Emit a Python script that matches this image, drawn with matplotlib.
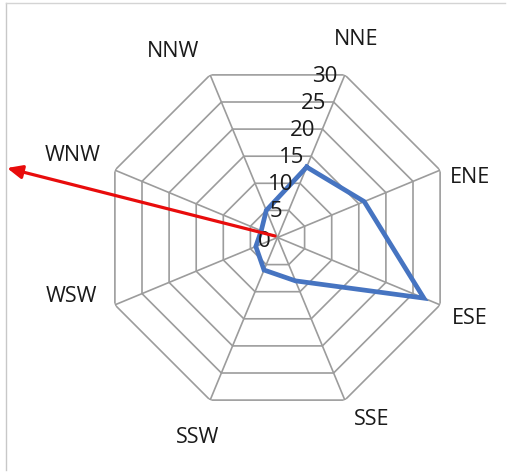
import numpy as np
import matplotlib
matplotlib.use("Agg")
import matplotlib.pyplot as plt
from matplotlib.lines import Line2D

# Wind direction sectors and their frequencies
directions = ["NNE", "ENE", "ESE", "SSE", "SSW", "WSW", "WNW", "NNW"]
frequency = [13, 16, 27, 8, 6, 4, 3, 5]
ring_values = [0, 5, 10, 15, 20, 25, 30]
ring_labels = ["0", "5", "10", "15", "20", "25", "30"]

plt.rcParams["font.family"] = ["Open Sans", "DejaVu Sans"]

W, H = 508, 475
fig = plt.figure(figsize=(W / 100, H / 100), dpi=100)
fig.patch.set_facecolor("white")

# Chart centre and outer radius in pixels
cx, cy, R = 277.5, 237.5, 176.0
ax = fig.add_axes([(cx - R) / W, (H - cy - R) / H, 2 * R / W, 2 * R / H],
                  projection="polar")
ax.set_theta_zero_location("N")
ax.set_theta_direction(-1)
rmax = ring_values[-1]
ax.set_ylim(0, rmax)
ax.set_axis_off()

n = len(directions)
theta = np.deg2rad(22.5 + 45.0 * np.arange(n))
theta_closed = np.append(theta, theta[0])

grid_kw = dict(color="#9c9c9c", lw=1.2, zorder=1, solid_capstyle="butt")
# Octagonal rings
for r in ring_values[1:]:
    ax.plot(theta_closed, [r] * (n + 1), **grid_kw)
# Spokes
for t in theta:
    ax.plot([t, t], [0, rmax], **grid_kw)

# Frequency polygon
vals = np.append(frequency, frequency[0])
ax.plot(theta_closed, vals, color="#4674c1", lw=3.4, zorder=3,
        solid_joinstyle="miter")

# Value labels along the NNE spoke
for v, lab in zip(ring_values, ring_labels):
    ax.annotate(lab, xy=(theta[0], v), xytext=(-5, -1 if v else -3),
                textcoords="offset points", ha="right", va="center",
                fontsize=16, color="#1a1a1a", zorder=4)

# Direction labels just outside the outer ring
label_angle = [21.8, 72.8, 112.7, 152.7, 201.7, 253.9, 291.9, 330.6]
label_radius = [36.3, 34.3, 35.6, 35.0, 36.6, 36.5, 37.7, 36.3]
for name, a, r in zip(directions, label_angle, label_radius):
    ax.text(np.deg2rad(a), r, name, ha="center", va="center",
            fontsize=15.5, color="#1a1a1a", clip_on=False)

# Red arrow from the centre towards the west-north-west
ax.annotate("", xy=(7 / W, 1 - 168 / H), xycoords="figure fraction",
            xytext=(275 / W, 1 - 236 / H), textcoords="figure fraction",
            arrowprops=dict(arrowstyle="-|>,head_length=0.9,head_width=0.4",
                            color="#e80c0c", lw=2.3, shrinkA=0, shrinkB=0),
            zorder=5)

# Thin frame lines around the chart area
fig.add_artist(Line2D([6 / W, 6 / W], [1 - 3 / H, 1 - 470 / H],
                      transform=fig.transFigure, color="#c8c8c8", lw=1.0))
fig.add_artist(Line2D([6 / W, 505 / W], [1 - 3 / H, 1 - 3 / H],
                      transform=fig.transFigure, color="#d4d4d4", lw=1.0))

fig.savefig("out.png", dpi=100, facecolor="white")
